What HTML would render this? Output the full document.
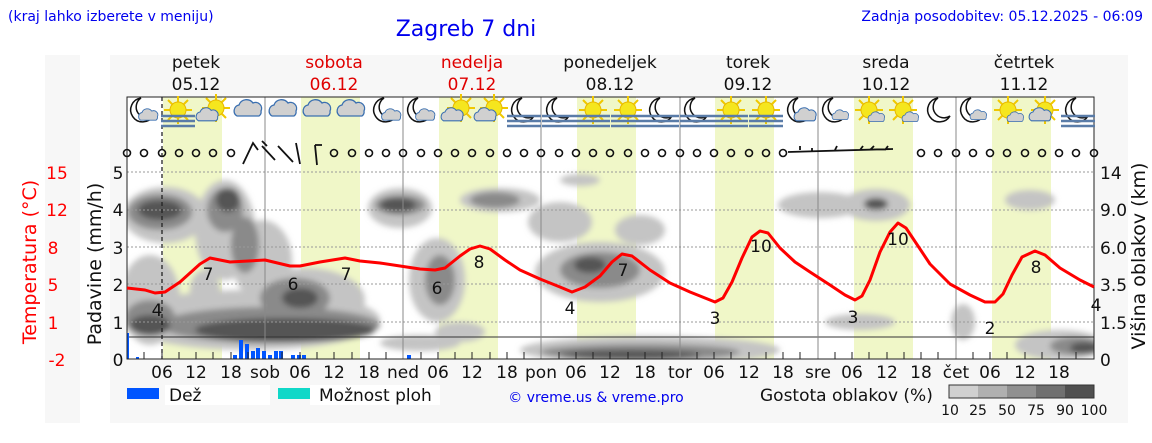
<!DOCTYPE html>
<html><head><meta charset="utf-8"><style>
body{margin:0;background:#fff;width:1152px;height:443px;overflow:hidden}
svg{display:block;font-family:"DejaVu Sans","Liberation Sans",sans-serif}
</style></head><body>
<svg width="1152" height="443" viewBox="0 0 1152 443" xmlns="http://www.w3.org/2000/svg">
<defs>
<filter id="b" x="-30%" y="-30%" width="160%" height="160%"><feGaussianBlur stdDeviation="3"/></filter>
<clipPath id="pc"><rect x="127" y="165" width="967" height="194"/></clipPath>
<g id="moon"><path d="M-2,-12 A12,12 0 1,0 10,6 A10,10 0 1,1 -2,-12Z" fill="#fff" stroke="#111" stroke-width="1.5"/></g>
<g id="sun"><g stroke="#f0c800" stroke-width="2"><line x1="-14" y1="0" x2="14" y2="0"/><line x1="0" y1="-14" x2="0" y2="14"/><line x1="-10" y1="-10" x2="10" y2="10"/><line x1="-10" y1="10" x2="10" y2="-10"/></g><circle r="8" fill="#f5e61e" stroke="#e8b800"/></g>
<g id="cl"><path d="M-12,6 a6,6 0 0,1 2,-11 a8,8 0 0,1 14,-2 a6,6 0 0,1 8,8 a5,5 0 0,1 -2,5z" fill="#d0d0d0" stroke="#3a6fb0" stroke-width="1.3"/></g>
<g id="fog" stroke="#5a7ca8" stroke-width="2.5"><line x1="-17" y1="6" x2="17" y2="6"/><line x1="-17" y1="11" x2="17" y2="11"/><line x1="-17" y1="16" x2="17" y2="16"/></g>
</defs>
<rect x="45" y="55" width="35" height="368" fill="#f7f7f7"/>
<rect x="110" y="55" width="1018" height="368" fill="#f7f7f7"/>
<rect x="127" y="97" width="967" height="262" fill="#fff"/>
<g fill="#f0f7c8">
<rect x="163" y="97" width="59" height="262"/><rect x="301" y="97" width="59" height="262"/><rect x="439" y="97" width="59" height="262"/><rect x="577" y="97" width="59" height="262"/><rect x="715" y="97" width="59" height="262"/><rect x="854" y="97" width="59" height="262"/><rect x="992" y="97" width="59" height="262"/>
</g>
<!-- clouds -->
<g clip-path="url(#pc)" filter="url(#b)">
<g fill="#c4c4c4">
<ellipse cx="165" cy="215" rx="42" ry="28"/><ellipse cx="225" cy="230" rx="30" ry="50"/><ellipse cx="262" cy="260" rx="30" ry="40"/><ellipse cx="305" cy="300" rx="60" ry="32"/>
<ellipse cx="250" cy="320" rx="130" ry="30"/><ellipse cx="150" cy="300" rx="30" ry="45"/><ellipse cx="205" cy="290" rx="15" ry="20"/><ellipse cx="400" cy="208" rx="32" ry="20"/><ellipse cx="437" cy="280" rx="28" ry="42"/>
<ellipse cx="500" cy="200" rx="40" ry="12"/><ellipse cx="560" cy="222" rx="32" ry="20"/><ellipse cx="600" cy="272" rx="65" ry="30"/><ellipse cx="640" cy="230" rx="25" ry="15"/><ellipse cx="580" cy="180" rx="20" ry="6"/>
<ellipse cx="650" cy="350" rx="130" ry="14"/><ellipse cx="820" cy="205" rx="42" ry="13"/><ellipse cx="876" cy="205" rx="34" ry="16"/><ellipse cx="1030" cy="200" rx="25" ry="10"/>
<ellipse cx="1060" cy="345" rx="45" ry="15"/><ellipse cx="963" cy="322" rx="12" ry="18"/><ellipse cx="860" cy="322" rx="35" ry="8"/><ellipse cx="420" cy="343" rx="40" ry="8"/><ellipse cx="460" cy="332" rx="25" ry="10"/>
</g>
<g fill="#8a8a8a">
<ellipse cx="160" cy="212" rx="32" ry="18"/><ellipse cx="225" cy="210" rx="18" ry="22"/><ellipse cx="245" cy="245" rx="14" ry="28"/><ellipse cx="270" cy="325" rx="110" ry="18"/><ellipse cx="150" cy="318" rx="25" ry="18"/><ellipse cx="400" cy="205" rx="25" ry="10"/><ellipse cx="295" cy="298" rx="35" ry="20"/><ellipse cx="440" cy="280" rx="15" ry="25"/><ellipse cx="600" cy="270" rx="40" ry="18"/><ellipse cx="640" cy="352" rx="100" ry="8"/><ellipse cx="1075" cy="346" rx="25" ry="9"/><ellipse cx="495" cy="200" rx="25" ry="8"/>
</g>
<g fill="#555">
<ellipse cx="160" cy="210" rx="22" ry="10"/><ellipse cx="228" cy="200" rx="12" ry="12"/><ellipse cx="285" cy="330" rx="90" ry="12"/><ellipse cx="150" cy="325" rx="20" ry="10"/><ellipse cx="398" cy="205" rx="18" ry="7"/><ellipse cx="300" cy="298" rx="18" ry="10"/><ellipse cx="630" cy="355" rx="70" ry="5"/><ellipse cx="590" cy="265" rx="16" ry="8"/><ellipse cx="876" cy="204" rx="12" ry="6"/><ellipse cx="1085" cy="348" rx="15" ry="6"/>
</g>
</g>
<g stroke="#999" stroke-dasharray="2,2" stroke-width="1">
<line x1="127" y1="172" x2="1094" y2="172"/><line x1="127" y1="210" x2="1094" y2="210"/><line x1="127" y1="247" x2="1094" y2="247"/><line x1="127" y1="284" x2="1094" y2="284"/><line x1="127" y1="322" x2="1094" y2="322"/>
</g>
<line x1="127" y1="337" x2="1094" y2="337" stroke="#333"/>
<g stroke="#888"><line x1="265" y1="97" x2="265" y2="359"/><line x1="403" y1="97" x2="403" y2="359"/><line x1="541" y1="97" x2="541" y2="359"/><line x1="680" y1="97" x2="680" y2="359"/><line x1="818" y1="97" x2="818" y2="359"/><line x1="956" y1="97" x2="956" y2="359"/></g>
<line x1="162" y1="97" x2="162" y2="359" stroke="#222" stroke-dasharray="4,3" stroke-width="1.3"/>
<g fill="#0055ff">
<rect x="127" y="333" width="2" height="26"/><rect x="136" y="357" width="3" height="2"/><rect x="233" y="355" width="4" height="4"/><rect x="239" y="340" width="4" height="19"/><rect x="245" y="344" width="4" height="15"/><rect x="251" y="351" width="4" height="8"/><rect x="256" y="348" width="4" height="11"/><rect x="262" y="351" width="4" height="8"/><rect x="268" y="355" width="4" height="4"/><rect x="274" y="351" width="4" height="8"/><rect x="279" y="351" width="4" height="8"/><rect x="291" y="355" width="4" height="4"/><rect x="297" y="355" width="4" height="4"/><rect x="302" y="355" width="4" height="4"/><rect x="407" y="355" width="4" height="4"/>
</g>
<rect x="127" y="97" width="967" height="262" fill="none" stroke="#222"/>
<polyline fill="none" stroke="#ff0000" stroke-width="3" stroke-linejoin="round" points="127,288 145,290 155,293 165,292 180,282 200,264 210,258 220,260 230,262 265,260 290,266 300,266 320,262 345,258 360,261 380,263 400,266 420,269 435,270 445,268 460,256 470,249 480,246 490,249 505,260 520,270 540,279 560,287 572,292 585,287 600,276 612,262 622,254 632,256 650,270 670,283 690,292 705,298 715,302 723,298 732,282 742,258 752,237 760,231 768,233 780,248 795,262 810,272 830,285 845,295 855,300 862,296 870,280 880,252 890,232 898,223 906,228 918,246 930,264 950,284 970,295 985,302 995,302 1003,294 1012,275 1022,257 1035,251 1045,255 1060,268 1080,280 1094,287"/>
<g font-size="17" fill="#111" text-anchor="middle">
<text x="157" y="316">4</text><text x="208" y="280">7</text><text x="293" y="290">6</text><text x="346" y="280">7</text><text x="437" y="294">6</text><text x="479" y="268">8</text><text x="570" y="314">4</text><text x="623" y="276">7</text><text x="715" y="324">3</text><text x="761" y="252">10</text><text x="853" y="323">3</text><text x="898" y="245">10</text><text x="990" y="334">2</text><text x="1036" y="273">8</text><text x="1096" y="311">4</text>
</g>
<g fill="none" stroke="#111" stroke-width="1.6">
<circle cx="127" cy="153" r="3.5"/><circle cx="144" cy="153" r="3.5"/><circle cx="162" cy="153" r="3.5"/><circle cx="179" cy="153" r="3.5"/><circle cx="196" cy="153" r="3.5"/><circle cx="213" cy="153" r="3.5"/><circle cx="231" cy="153" r="3.5"/>
<circle cx="334" cy="153" r="3.5"/><circle cx="352" cy="153" r="3.5"/><circle cx="369" cy="153" r="3.5"/><circle cx="386" cy="153" r="3.5"/><circle cx="403" cy="153" r="3.5"/><circle cx="421" cy="153" r="3.5"/><circle cx="438" cy="153" r="3.5"/><circle cx="455" cy="153" r="3.5"/><circle cx="472" cy="153" r="3.5"/><circle cx="490" cy="153" r="3.5"/><circle cx="507" cy="153" r="3.5"/><circle cx="524" cy="153" r="3.5"/><circle cx="541" cy="153" r="3.5"/><circle cx="559" cy="153" r="3.5"/><circle cx="576" cy="153" r="3.5"/><circle cx="593" cy="153" r="3.5"/><circle cx="610" cy="153" r="3.5"/><circle cx="628" cy="153" r="3.5"/><circle cx="645" cy="153" r="3.5"/><circle cx="662" cy="153" r="3.5"/><circle cx="680" cy="153" r="3.5"/><circle cx="697" cy="153" r="3.5"/><circle cx="714" cy="153" r="3.5"/><circle cx="731" cy="153" r="3.5"/><circle cx="749" cy="153" r="3.5"/><circle cx="766" cy="153" r="3.5"/><circle cx="783" cy="153" r="3.5"/>
<circle cx="921" cy="153" r="3.5"/><circle cx="938" cy="153" r="3.5"/><circle cx="956" cy="153" r="3.5"/><circle cx="973" cy="153" r="3.5"/><circle cx="990" cy="153" r="3.5"/><circle cx="1007" cy="153" r="3.5"/><circle cx="1025" cy="153" r="3.5"/><circle cx="1042" cy="153" r="3.5"/><circle cx="1059" cy="153" r="3.5"/><circle cx="1076" cy="153" r="3.5"/><circle cx="1094" cy="153" r="3.5"/>
</g>
<g stroke="#111" stroke-width="1.8" fill="none">
<path d="M243,164 L253,143 L258,150"/><path d="M267,146 L262,141 M262,146 L275,160"/><path d="M278,146 L293,162"/><path d="M296,143 L300,164"/><path d="M315,145 L317,165 M315,145 L322,145"/>
<path d="M788,152 L893,149 M800,150 l0,-4 M812,151 l0,-3 M835,150 l2,-4 M860,150 l3,-4 M870,150 l4,-4 M885,150 l3,-4"/>
</g>
<g transform="translate(0,110)">
<g transform="translate(143,0)"><use href="#moon"/><g transform="translate(6,6) scale(0.7)"><use href="#cl"/></g></g>
<g transform="translate(178,0)"><use href="#sun"/><use href="#fog"/></g>
<g transform="translate(212,0)"><g transform="translate(4,-2)"><use href="#sun"/></g><g transform="translate(-4,6) scale(0.8)"><use href="#cl"/></g></g>
<g transform="translate(249,0)"><use href="#cl"/></g><g transform="translate(284,0)"><use href="#cl"/></g><g transform="translate(318,0)"><use href="#cl"/></g><g transform="translate(352,0)"><use href="#cl"/></g>
<g transform="translate(386,0)"><use href="#moon"/><g transform="translate(6,6) scale(0.7)"><use href="#cl"/></g></g>
<g transform="translate(420,0)"><use href="#moon"/><g transform="translate(6,6) scale(0.7)"><use href="#cl"/></g></g>
<g transform="translate(457,0)"><g transform="translate(4,-2)"><use href="#sun"/></g><g transform="translate(-4,6) scale(0.8)"><use href="#cl"/></g></g>
<g transform="translate(490,0)"><g transform="translate(4,-2)"><use href="#sun"/></g><g transform="translate(-4,6) scale(0.8)"><use href="#cl"/></g></g>
<g transform="translate(524,0)"><use href="#moon"/><use href="#fog"/></g><g transform="translate(559,0)"><use href="#moon"/><use href="#fog"/></g>
<g transform="translate(593,0)"><use href="#sun"/><use href="#fog"/></g><g transform="translate(628,0)"><use href="#sun"/><use href="#fog"/></g>
<g transform="translate(662,0)"><use href="#moon"/><use href="#fog"/></g><g transform="translate(697,0)"><use href="#moon"/><use href="#fog"/></g>
<g transform="translate(731,0)"><use href="#sun"/><use href="#fog"/></g><g transform="translate(766,0)"><use href="#sun"/><use href="#fog"/></g>
<g transform="translate(800,0)"><use href="#moon"/><g transform="translate(6,6) scale(0.8)"><use href="#cl"/></g></g>
<g transform="translate(835,0)"><use href="#moon"/><g transform="translate(6,6) scale(0.6)"><use href="#cl"/></g></g>
<g transform="translate(869,0)"><use href="#sun"/><g transform="translate(8,8) scale(0.6)"><use href="#cl"/></g></g>
<g transform="translate(903,0)"><use href="#sun"/><g transform="translate(8,8) scale(0.6)"><use href="#cl"/></g></g>
<g transform="translate(940,0)"><use href="#moon"/></g>
<g transform="translate(973,0)"><use href="#moon"/><g transform="translate(6,6) scale(0.6)"><use href="#cl"/></g></g>
<g transform="translate(1008,0)"><use href="#sun"/><g transform="translate(8,8) scale(0.6)"><use href="#cl"/></g></g>
<g transform="translate(1045,0)"><use href="#sun"/><g transform="translate(-4,6) scale(0.8)"><use href="#cl"/></g></g>
<g transform="translate(1078,0)"><use href="#moon"/><use href="#fog"/></g>
</g>
<text x="8" y="21" font-size="14" fill="#0000ee">(kraj lahko izberete v meniju)</text>
<text x="466" y="36" font-size="22" fill="#0000ee" text-anchor="middle">Zagreb 7 dni</text>
<text x="1143" y="21" font-size="14" fill="#0000ee" text-anchor="end">Zadnja posodobitev: 05.12.2025 - 06:09</text>
<g font-size="17" text-anchor="middle" fill="#111">
<text x="196" y="68">petek</text><text x="196" y="90">05.12</text>
<text x="334" y="68" fill="#e00000">sobota</text><text x="334" y="90" fill="#e00000">06.12</text>
<text x="472" y="68" fill="#e00000">nedelja</text><text x="472" y="90" fill="#e00000">07.12</text>
<text x="610" y="68">ponedeljek</text><text x="610" y="90">08.12</text>
<text x="748" y="68">torek</text><text x="748" y="90">09.12</text>
<text x="886" y="68">sreda</text><text x="886" y="90">10.12</text>
<text x="1024" y="68">četrtek</text><text x="1024" y="90">11.12</text>
</g>
<g font-size="17" fill="#ff0000" text-anchor="middle"><text x="57" y="179">15</text><text x="57" y="216">12</text><text x="53" y="254">8</text><text x="53" y="291">5</text><text x="53" y="329">1</text><text x="57" y="366">-2</text></g>
<text transform="translate(36,262) rotate(-90)" font-size="19" fill="#ff0000" text-anchor="middle">Temperatura (°C)</text>
<g font-size="17" fill="#111" text-anchor="middle"><text x="118" y="179">5</text><text x="118" y="216">4</text><text x="118" y="254">3</text><text x="118" y="291">2</text><text x="118" y="329">1</text><text x="118" y="366">0</text></g>
<text transform="translate(101,264) rotate(-90)" font-size="19" fill="#111" text-anchor="middle">Padavine (mm/h)</text>
<g font-size="17" fill="#111"><text x="1100" y="179">14</text><text x="1100" y="216">9.0</text><text x="1100" y="254">6.0</text><text x="1100" y="291">3.5</text><text x="1100" y="329">1.5</text><text x="1100" y="366">0</text></g>
<text transform="translate(1145,256) rotate(-90)" font-size="19" fill="#111" text-anchor="middle">Višina oblakov (km)</text>
<g font-size="17" fill="#111" text-anchor="middle">
<text x="162" y="378">06</text><text x="196" y="378">12</text><text x="231" y="378">18</text><text x="265" y="378">sob</text><text x="300" y="378">06</text><text x="334" y="378">12</text><text x="369" y="378">18</text><text x="403" y="378">ned</text><text x="438" y="378">06</text><text x="472" y="378">12</text><text x="507" y="378">18</text><text x="541" y="378">pon</text><text x="576" y="378">06</text><text x="610" y="378">12</text><text x="645" y="378">18</text><text x="680" y="378">tor</text><text x="714" y="378">06</text><text x="749" y="378">12</text><text x="783" y="378">18</text><text x="818" y="378">sre</text><text x="852" y="378">06</text><text x="887" y="378">12</text><text x="921" y="378">18</text><text x="956" y="378">čet</text><text x="990" y="378">06</text><text x="1025" y="378">12</text><text x="1059" y="378">18</text>
</g>
<g stroke="#222"><path d="M144,352V359M162,352V359M179,352V359M196,352V359M213,352V359M231,352V359M248,352V359M282,352V359M300,352V359M317,352V359M334,352V359M352,352V359M369,352V359M386,352V359M421,352V359M438,352V359M455,352V359M472,352V359M490,352V359M507,352V359M524,352V359M559,352V359M576,352V359M593,352V359M610,352V359M628,352V359M645,352V359M662,352V359M697,352V359M714,352V359M731,352V359M749,352V359M766,352V359M783,352V359M800,352V359M835,352V359M852,352V359M869,352V359M887,352V359M904,352V359M921,352V359M938,352V359M973,352V359M990,352V359M1007,352V359M1025,352V359M1042,352V359M1059,352V359M1076,352V359"/></g>
<rect x="165" y="385" width="105" height="20" fill="#fff"/><rect x="310" y="385" width="130" height="20" fill="#fff"/>
<rect x="127" y="388" width="32" height="11" fill="#0055ff"/><text x="169" y="401" font-size="17" fill="#111">Dež</text>
<rect x="278" y="388" width="32" height="11" fill="#10d8c8"/><text x="319" y="401" font-size="17" fill="#111">Možnost ploh</text>
<text x="596" y="402" font-size="14" fill="#0000ee" text-anchor="middle">© vreme.us &amp; vreme.pro</text>
<text x="760" y="401" font-size="17" fill="#111">Gostota oblakov (%)</text>
<rect x="949" y="385" width="29" height="13" fill="#d0d0d0"/><rect x="978" y="385" width="29" height="13" fill="#b0b0b0"/><rect x="1007" y="385" width="29" height="13" fill="#909090"/><rect x="1036" y="385" width="29" height="13" fill="#707070"/><rect x="1065" y="385" width="29" height="13" fill="#505050"/>
<rect x="949" y="385" width="145" height="13" fill="none" stroke="#333"/>
<g font-size="14" fill="#111" text-anchor="middle"><text x="950" y="415">10</text><text x="978" y="415">25</text><text x="1007" y="415">50</text><text x="1036" y="415">75</text><text x="1065" y="415">90</text><text x="1094" y="415">100</text></g>
</svg>
</body></html>
